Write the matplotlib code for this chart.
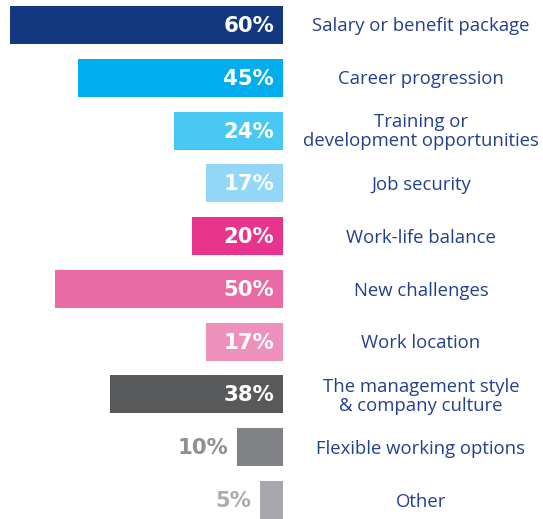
import matplotlib.pyplot as plt

categories = [
    "Salary or benefit package",
    "Career progression",
    "Training or\ndevelopment opportunities",
    "Job security",
    "Work-life balance",
    "New challenges",
    "Work location",
    "The management style\n& company culture",
    "Flexible working options",
    "Other",
]
values = [60, 45, 24, 17, 20, 50, 17, 38, 10, 5]
value_labels = ["60%", "45%", "24%", "17%", "20%", "50%", "17%", "38%", "10%", "5%"]
bar_colors = ["#14387F", "#00AEEF", "#48C8F5", "#92D6F8", "#E8348C",
              "#EA6AA3", "#EE91BA", "#58595B", "#808184", "#A7A8AB"]
outside_label_colors = {8: "#8E8F92", 9: "#ABACAF"}

W, H = 543, 519
fig = plt.figure(figsize=(W / 100, H / 100), dpi=100)
ax = fig.add_axes([0, 0, 283 / W, 1])

px_per_unit = 4.55
xmax = 283 / px_per_unit
pitch = 52.9
ax.set_xlim(xmax, 0)
ax.set_ylim(9 + 19 / pitch, -25 / pitch)
ax.axis("off")

y = list(range(len(values)))
ax.barh(y, values, height=0.72, color=bar_colors, left=0)

value_font = "DejaVu Sans"
for i, (v, lab) in enumerate(zip(values, value_labels)):
    if i in outside_label_colors:
        ax.annotate(lab, xy=(v, i), xytext=(-9, -1), textcoords="offset pixels",
                    ha="right", va="center", color=outside_label_colors[i],
                    fontsize=15.3, fontweight="bold", family=value_font)
    else:
        ax.annotate(lab, xy=(0, i), xytext=(-9, -1), textcoords="offset pixels",
                    ha="right", va="center", color="white",
                    fontsize=15.3, fontweight="bold", family=value_font)

# category names, centred in the right-hand column
for i, cat in enumerate(categories):
    yy = 1 - (26 + i * pitch) / H
    fig.text(421 / W, yy, cat, ha="center", va="center", color="#23408E",
             fontsize=13.3, family="Open Sans", linespacing=1.08)

fig.savefig("out.png", dpi=100)
